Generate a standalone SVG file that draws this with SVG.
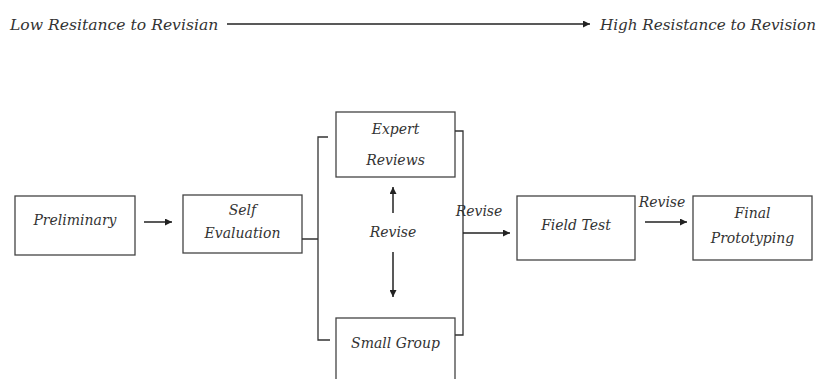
<svg xmlns="http://www.w3.org/2000/svg" width="819" height="379" viewBox="0 0 819 379">
<defs>
<marker id="ah" viewBox="0 0 10 10" refX="10" refY="5" markerWidth="7" markerHeight="7" markerUnits="userSpaceOnUse" orient="auto">
<path d="M0,0 L10,5 L0,10 z" fill="#222"/>
</marker>
<style>
text{font-family:"DejaVu Serif","Liberation Serif",serif;font-style:italic;fill:#333;font-size:14px}
.top{font-size:15.6px}
.box{fill:#fff;stroke:#444;stroke-width:1.3}
.ln{fill:none;stroke:#333;stroke-width:1.3}
.ar{fill:none;stroke:#222;stroke-width:1.5;marker-end:url(#ah)}
</style>
</defs>
<rect width="819" height="379" fill="#fff"/>
<g id="scale">
<text class="top" x="10" y="30">Low Resitance to Revisian</text>
<text class="top" x="816" y="30" text-anchor="end" style="font-size:15.2px">High Resistance to Revision</text>
</g>
<g id="preliminary">
<rect class="box" x="15" y="196" width="120" height="59"/>
<text x="75" y="225" text-anchor="middle">Preliminary</text>
</g>
<g id="self-evaluation">
<rect class="box" x="183" y="195" width="119" height="58"/>
<text x="242.5" y="215" text-anchor="middle">Self</text>
<text x="242.5" y="238" text-anchor="middle">Evaluation</text>
</g>
<g id="expert-reviews">
<rect class="box" x="336" y="112" width="119" height="65"/>
<text x="395.5" y="134" text-anchor="middle">Expert</text>
<text x="395.5" y="165" text-anchor="middle">Reviews</text>
</g>
<g id="small-group">
<rect class="box" x="336" y="318" width="119" height="70"/>
<text x="395.5" y="348" text-anchor="middle">Small Group</text>
</g>
<g id="field-test">
<rect class="box" x="517" y="196" width="118" height="64"/>
<text x="576" y="230" text-anchor="middle">Field Test</text>
</g>
<g id="final-prototyping">
<rect class="box" x="693" y="196" width="119" height="64"/>
<text x="752.5" y="218" text-anchor="middle">Final</text>
<text x="752.5" y="243" text-anchor="middle">Prototyping</text>
</g>
<g id="connectors">
<path class="ar" d="M227,24 H590"/>
<path class="ar" d="M144,222 H172"/>
<path class="ln" d="M302,239 H318 M328,137 H318 V340 H330"/>
<path class="ar" d="M393,213 V187"/>
<text x="393" y="237" text-anchor="middle">Revise</text>
<path class="ar" d="M393,252 V297"/>
<path class="ln" d="M455,131 H463 V335 H455"/>
<path class="ar" d="M463,233 H510"/>
<text x="479" y="216" text-anchor="middle">Revise</text>
<text x="662" y="207" text-anchor="middle">Revise</text>
<path class="ar" d="M645,222 H687"/>
</g>
</svg>
